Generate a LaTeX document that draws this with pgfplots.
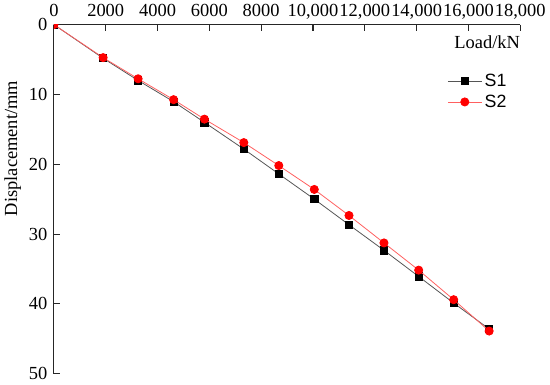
\documentclass[border=0pt]{standalone}
\usepackage{pgfplots}
\pgfplotsset{compat=1.18}
\usepackage{fontspec}
\setmainfont{Liberation Serif}
\newfontfamily\arial{Liberation Sans}
\definecolor{S1line}{HTML}{555555}
\definecolor{S2line}{HTML}{FF6060}
\definecolor{S2mark}{HTML}{FF0000}

\begin{document}
\begin{tikzpicture}[font=\fontsize{14}{16}\selectfont]
\begin{axis}[
  scale only axis,
  width=354pt,
  height=265pt,
  xmin=0, xmax=18000,
  ymin=0, ymax=50,
  y dir=reverse,
  axis x line=top,
  axis y line=left,
  axis line style={-, line width=0.8pt, black!85},
  tick align=inside,
  major tick length=4.5pt,
  tick style={line width=0.8pt, black!85},
  xtick={0,2000,...,18000},
  ytick={0,10,...,50},
  scaled ticks=false,
  tick label style={font=\fontsize{14}{16}\selectfont},
  label style={font=\fontsize{14}{16}\selectfont},
  /pgf/number format/assume math mode=true,
  x tick label style={text depth=0pt, yshift=2.5pt, /pgf/number format/1000 sep={,}, /pgf/number format/min exponent for 1000 sep=4},
  y tick label style={xshift=-1.5pt},
  ylabel={Displacement/mm},
  ylabel style={at={(ticklabel cs:0.645)}, yshift=-1pt},
  clip marker paths=true,
  legend cell align=left,
  legend style={draw=none, fill=none, font=\arial\fontsize{13.5}{15}\selectfont,
    at={(0.835,0.875)}, anchor=north west, row sep=1pt},
  legend image code/.code={\draw[mark repeat=2,mark phase=2] plot coordinates {(0cm,0cm) (0.45cm,0cm) (0.9cm,0cm)};},
]
\addplot[color=S1line, line width=0.6pt, mark=square*, mark size=2.75pt, mark options={black, fill=black, solid}] coordinates {
(0,0) (1900,4.82) (3250,8.0) (4620,11.04) (5810,14.0) (7330,17.83) (8680,21.39)
(10050,25.0) (11390,28.67) (12740,32.33) (14080,36.08) (15430,39.88) (16800,43.6)
};
\addlegendentry{S1}
\addplot[color=S2line, line width=0.6pt, mark=*, mark size=3.1pt, mark options={S2mark, fill=S2mark, solid}] coordinates {
(0,0) (1900,4.73) (3250,7.76) (4620,10.75) (5810,13.54) (7330,16.9) (8680,20.19)
(10050,23.61) (11390,27.34) (12740,31.27) (14080,35.17) (15430,39.4) (16800,43.89)
};
\addlegendentry{S2}
\node[anchor=north east, inner sep=0pt] at (axis cs:18000,0) [yshift=-8pt] {Load/kN};
\end{axis}
\end{tikzpicture}
\end{document}
